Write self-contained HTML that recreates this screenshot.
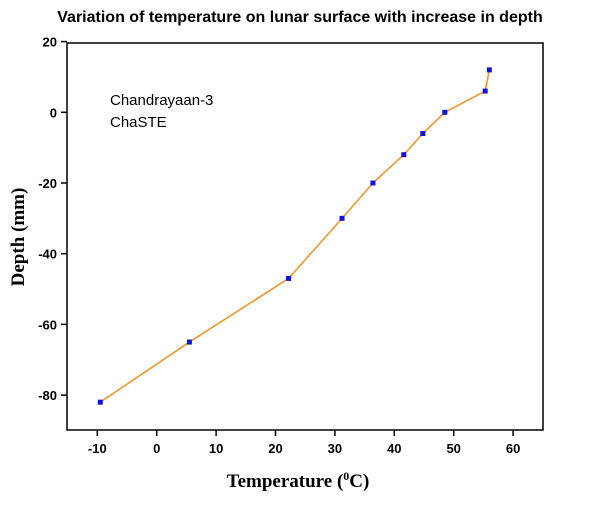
<!DOCTYPE html>
<html><head><meta charset="utf-8"><style>
body{margin:0;background:#fff;}
svg text{font-family:"Liberation Sans",sans-serif;}
</style></head><body>
<svg id="chart" width="601" height="500" xmlns="http://www.w3.org/2000/svg">
<text x="300" y="22" text-anchor="middle" font-size="16" font-weight="bold">Variation of temperature on lunar surface with increase in depth</text>
<rect x="67" y="43" width="476" height="387" fill="none" stroke="#000" stroke-width="1.5"/>
<g id="xticks"></g><g id="yticks"></g>
<text x="110" y="105" font-size="15">Chandrayaan-3</text>
<text x="110" y="127" font-size="15">ChaSTE</text>
<text x="298" y="487" text-anchor="middle" font-size="19" font-weight="bold" style="font-family:'Liberation Serif',serif">Temperature (<tspan dy="-7" font-size="12">0</tspan><tspan dy="7">C)</tspan></text>
<text transform="translate(24,237) rotate(-90)" text-anchor="middle" font-size="19" font-weight="bold" style="font-family:'Liberation Serif',serif">Depth (mm)</text>
<g id="series"></g>
</svg>
<script>
const temps=[-9.5,5.5,22.2,31.2,36.4,41.6,44.8,48.5,55.3,56];
const depths=[-82,-65,-47,-30,-20,-12,-6,0,6,12];
const xTicks=[-10,0,10,20,30,40,50,60];
const yTicks=[20,0,-20,-40,-60,-80];
const NS="http://www.w3.org/2000/svg";
function sx(v){return 156.7+v*5.94;}
function sy(v){return 112.3-v*3.535;}
function mk(t,a,p){const e=document.createElementNS(NS,t);for(const k in a)e.setAttribute(k,a[k]);p.appendChild(e);return e;}
const xg=document.getElementById('xticks');
xTicks.forEach(t=>{
 const l=mk('line',{x1:sx(t),x2:sx(t),y1:430,y2:436,stroke:'#000','stroke-width':1.5},xg);
 
 
 const tx=mk('text',{x:sx(t),y:453,'text-anchor':'middle','font-size':13,'font-weight':'bold'},xg);
 tx.textContent=t;
 
 
});
const yg=document.getElementById('yticks');
yTicks.forEach(t=>{
 const l=mk('line',{x1:61,x2:67,y1:sy(t),y2:sy(t),stroke:'#000','stroke-width':1.5},yg);
 
 
 const tx=mk('text',{x:57,y:sy(t)+5,'text-anchor':'end','font-size':13,'font-weight':'bold'},yg);
 tx.textContent=t;
 
 
});
const sg=document.getElementById('series');
const pl=mk('polyline',{points:temps.map((t,i)=>sx(t)+','+sy(depths[i])).join(' '),fill:'none',stroke:'#f0962a','stroke-width':1.6},sg);


temps.forEach((t,i)=>{
 const r=mk('rect',{x:sx(t)-2.5,y:sy(depths[i])-2.5,width:5,height:5,fill:'#1010e0'},sg);
 
 
});
</script>
</body></html>
